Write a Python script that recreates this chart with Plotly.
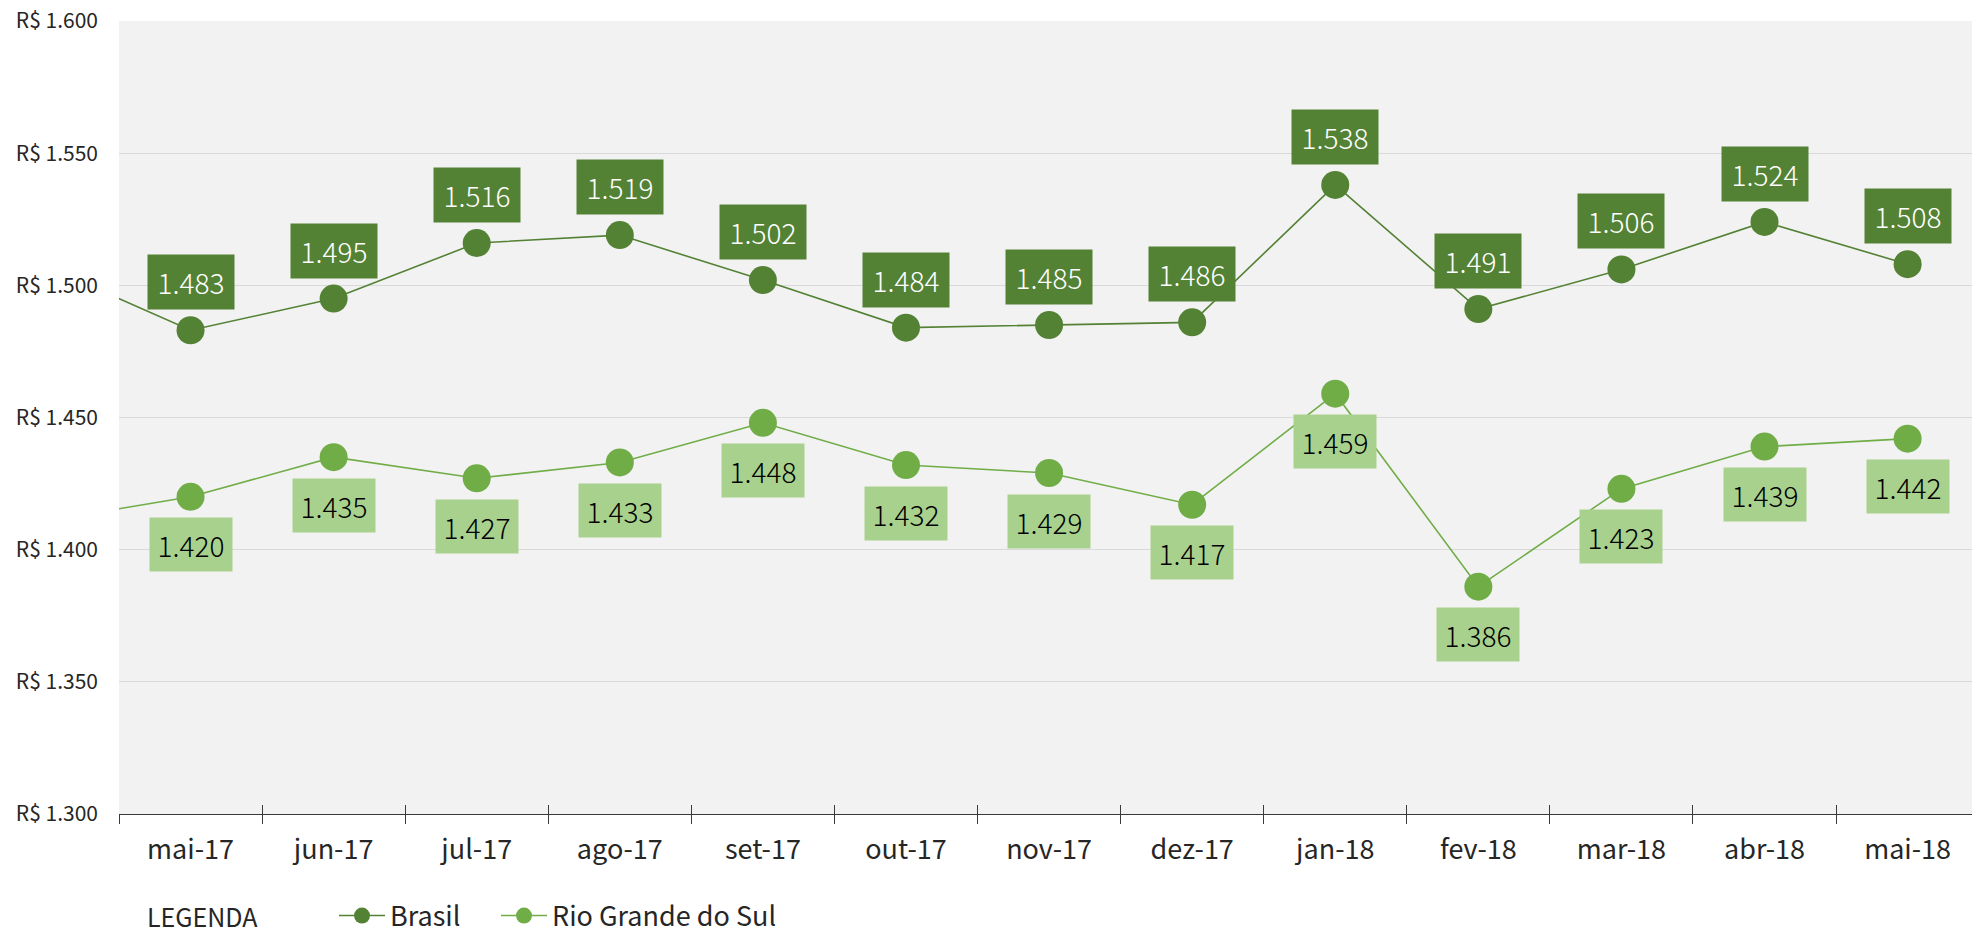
import plotly.graph_objects as go

# ---- data ----
months = ["abr-17", "mai-17", "jun-17", "jul-17", "ago-17", "set-17", "out-17",
          "nov-17", "dez-17", "jan-18", "fev-18", "mar-18", "abr-18", "mai-18"]
brasil = [1507, 1483, 1495, 1516, 1519, 1502, 1484, 1485, 1486, 1538, 1491, 1506, 1524, 1508]
rs = [1411, 1420, 1435, 1427, 1433, 1448, 1432, 1429, 1417, 1459, 1386, 1423, 1439, 1442]
y_ticks = [1300, 1350, 1400, 1450, 1500, 1550, 1600]

C_BR = "#548235"
C_RS = "#70AD47"
C_RS_LBL = "#A9D18E"
FONT = "Noto Sans CJK JP"
TXT = "#262626"


def fmt(v):
    return f"{v:,.0f}".replace(",", ".")


y_text = ["R$ " + fmt(v) for v in y_ticks]

fig = go.Figure()
fig.add_trace(go.Scatter(x=months, y=brasil, name="Brasil", mode="lines+markers",
                         legendwidth=101,
                         line=dict(color=C_BR, width=1.6),
                         marker=dict(color=C_BR, size=28, line=dict(width=0))))
fig.add_trace(go.Scatter(x=months, y=rs, name="Rio Grande do Sul", mode="lines+markers",
                         line=dict(color=C_RS, width=1.6),
                         marker=dict(color=C_RS, size=28, line=dict(width=0))))
# invisible helper trace for the crossing tick marks axis
fig.add_trace(go.Scatter(x=months, y=rs, xaxis="x2", mode="lines", opacity=0,
                         line=dict(width=0), showlegend=False, hoverinfo="skip"))

W, H = 1972, 936
L, R, T, B = 119, 0, 21, 122
PW, PH = W - L - R, H - T - B
BOT = H - B

ann = []
for m, b, r in zip(months[1:], brasil[1:], rs[1:]):
    ann.append(dict(x=m, y=b, xref="x", yref="y", text=fmt(b), showarrow=False,
                    yshift=48, width=86, height=54, borderpad=0, bgcolor=C_BR,
                    font=dict(family=FONT, size=28, color="white", weight=300)))
    ann.append(dict(x=m, y=r, xref="x", yref="y", text=fmt(r), showarrow=False,
                    yshift=-48, width=82, height=53, borderpad=0, bgcolor=C_RS_LBL,
                    font=dict(family=FONT, size=28, color="black", weight=300)))
ann.append(dict(text="LEGENDA", showarrow=False, xref="paper", yref="paper",
                x=(202 - L) / PW, y=-(935 - BOT) / PH, xanchor="center", yanchor="bottom",
                borderpad=0, font=dict(family=FONT, size=25, color=TXT)))

fig.update_layout(
    width=W, height=H,
    margin=dict(l=L, r=R, t=T, b=B, autoexpand=False),
    paper_bgcolor="white", plot_bgcolor="#F2F2F2",
    font=dict(family=FONT, color=TXT),
    showlegend=True,
    legend=dict(orientation="h", xref="paper", x=(334 - L) / PW, xanchor="left",
                yref="paper", y=-(916 - BOT) / PH, yanchor="middle",
                font=dict(family=FONT, size=27, color=TXT), itemwidth=46,
                bgcolor="rgba(0,0,0,0)", itemsizing="trace"),
    xaxis=dict(type="category", categoryorder="array", categoryarray=months,
               range=[0.5, 13.45], tickson="boundaries", ticks="outside", ticklen=9,
               tickcolor="#3a3a3a", showgrid=False, showline=True, linecolor="#3a3a3a",
               linewidth=1, zeroline=False, ticklabelstandoff=12,
               tickfont=dict(family=FONT, size=27, color=TXT)),
    xaxis2=dict(type="category", matches="x", overlaying="x", anchor="y", side="bottom",
                tickson="boundaries", ticks="inside", ticklen=9, tickcolor="#3a3a3a",
                showticklabels=False, showgrid=False, showline=False, zeroline=False),
    yaxis=dict(range=[1300, 1600], tickvals=y_ticks, ticktext=y_text,
               showgrid=True, gridcolor="#D9D9D9", gridwidth=1, zeroline=False,
               showline=False, ticks="", ticklabelstandoff=20,
               tickfont=dict(family=FONT, size=21, color=TXT)),
    annotations=ann,
)

fig.write_html("out.html", config={"displayModeBar": False},
               post_script="document.body.style.margin='0';document.body.style.overflow='hidden';")
